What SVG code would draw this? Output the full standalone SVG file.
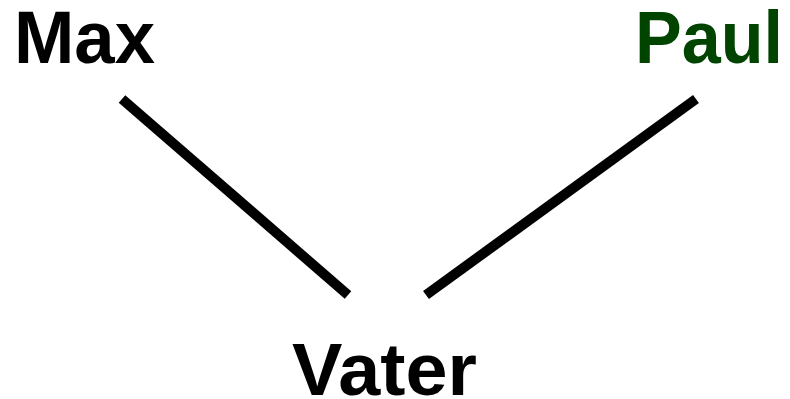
<svg xmlns="http://www.w3.org/2000/svg" width="790" height="399" viewBox="0 0 790 399">
<style>
text{font-family:"Liberation Sans",Arial,sans-serif;font-weight:bold;font-size:75px}
.edge{stroke:#000;stroke-width:10;fill:none}
</style>
<rect width="790" height="399" fill="#fff"/>
<g id="connectors">
<line class="edge" x1="122" y1="99" x2="348" y2="295"/>
<line class="edge" x1="696" y1="99" x2="426" y2="295"/>
</g>
<g id="max"><text x="14" y="63" textLength="141" lengthAdjust="spacingAndGlyphs">Max</text></g>
<g id="paul"><text x="635" y="63" fill="#004400" textLength="148" lengthAdjust="spacingAndGlyphs">Paul</text></g>
<g id="vater"><text x="292" y="395" textLength="185" lengthAdjust="spacingAndGlyphs">Vater</text></g>
</svg>
